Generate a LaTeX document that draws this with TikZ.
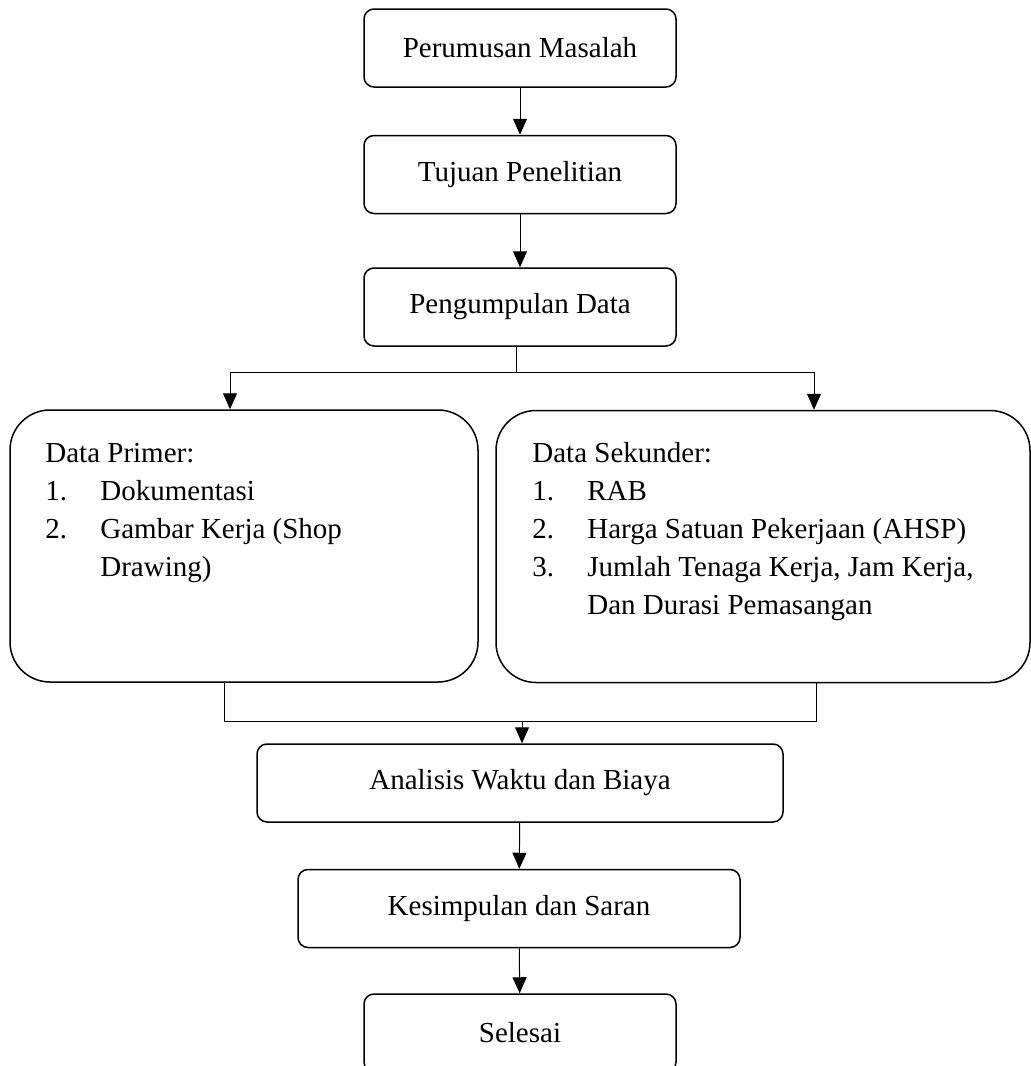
\documentclass[tikz,border=0pt]{standalone}
\usepackage{fontspec}
\setmainfont{Liberation Serif}
\usetikzlibrary{arrows.meta}

\begin{document}
\begin{tikzpicture}[x=0.5pt, y=-0.5pt,
  font=\fontsize{14.5}{19}\selectfont,
  box/.style={draw, line width=0.75pt, rounded corners=5pt, minimum height=39pt, inner sep=0pt},
  bigbox/.style={draw, line width=0.75pt, rounded corners=20pt, minimum height=136pt, inner sep=0pt},
  link/.style={line width=0.5pt},
  arr/.style={line width=0.5pt, -{Triangle[length=8pt, width=7pt]}}]
\useasboundingbox (0,0) rectangle (1031,1066);
\node[box, minimum width=156pt] (rumusan) at (520,48) {Perumusan Masalah};
\node[box, minimum width=156pt] (tujuan) at (520,174.5) {Tujuan Penelitian};
\node[box, minimum width=156pt] (kumpul) at (520,307) {Pengumpulan Data};
\node[bigbox, minimum width=234pt] (primer) at (244,546) {};
\node[bigbox, minimum width=267pt] (sekunder) at (763,546.5) {};
\node[anchor=base west, inner sep=0pt] (isiprimer) at (45,462) {\begin{tabular}[t]{@{}p{27.5pt}@{}l@{}}
\multicolumn{2}{@{}l@{}}{Data Primer:}\\
1. & Dokumentasi\\
2. & Gambar Kerja (Shop\\
 & Drawing)
\end{tabular}};
\node[anchor=base west, inner sep=0pt] (isisekunder) at (532,462) {\begin{tabular}[t]{@{}p{27.5pt}@{}l@{}}
\multicolumn{2}{@{}l@{}}{Data Sekunder:}\\
1. & RAB\\
2. & Harga Satuan Pekerjaan (AHSP)\\
3. & Jumlah Tenaga Kerja, Jam Kerja,\\
 & Dan Durasi Pemasangan
\end{tabular}};
\node[box, minimum width=263pt] (analisis) at (520,783) {Analisis Waktu dan Biaya};
\node[box, minimum width=221pt] (kesimpulan) at (519,908.5) {Kesimpulan dan Saran};
\node[box, minimum width=156pt] (selesai) at (520,1033) {Selesai};

\coordinate (pisah) at (516,372);
\coordinate (pisahkiri) at (230,372);
\coordinate (pisahkanan) at (814,372);
\coordinate (gabung) at (522,721);
\coordinate (gabungkiri) at (224,721);
\coordinate (gabungkanan) at (816,721);

\draw[arr] (rumusan) -- (tujuan);
\draw[arr] (tujuan) -- (kumpul);
\draw[link] (pisah |- kumpul.south) -- (pisah);
\draw[link] (pisahkiri) -- (pisahkanan);
\draw[arr] (pisahkiri) -- (pisahkiri |- primer.north);
\draw[arr] (pisahkanan) -- (pisahkanan |- sekunder.north);
\draw[link] (gabungkiri |- primer.south) -- (gabungkiri) -- (gabungkanan) -- (gabungkanan |- sekunder.south);
\draw[arr] (gabung) -- (gabung |- analisis.north);
\draw[arr] (analisis) -- (kesimpulan);
\draw[arr] (kesimpulan) -- (selesai);
\end{tikzpicture}
\end{document}
